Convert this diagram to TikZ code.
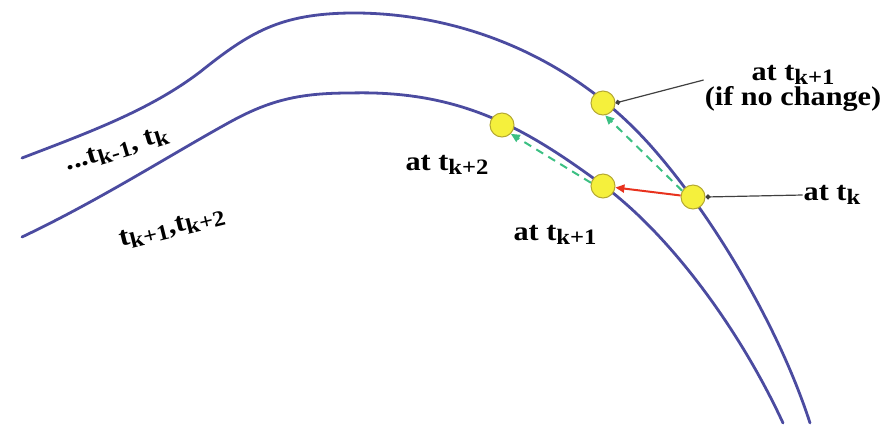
\documentclass[tikz,border=0pt]{standalone}
\usepackage{fontspec}
\setmainfont{Liberation Serif}[FakeStretch=1.12]
\usepackage{xcolor}
\usepackage{tikz}
\usetikzlibrary{arrows.meta}
\definecolor{track}{HTML}{4B4BA0}
\definecolor{ptfill}{HTML}{F5F03C}
\definecolor{ptdraw}{HTML}{B4A832}
\definecolor{moveg}{HTML}{3CC083}
\definecolor{mover}{HTML}{E8321E}
\newcommand{\lsub}[1]{\raisebox{-0.35ex}{\fontsize{22}{22}\selectfont #1}}

\begin{document}
\begin{tikzpicture}[x=1pt,y=-1pt,
  trackline/.style={draw=track,line width=2.8pt,line cap=round},
  ptnode/.style={circle,fill=ptfill,draw=ptdraw,line width=1pt,minimum size=24pt,inner sep=0pt},
  lbl/.style={font=\fontsize{27}{25}\selectfont\bfseries,inner sep=1pt},
  leader/.style={draw=black!75,line width=1.2pt,{Circle[length=5pt]}-},
  predict/.style={draw=moveg,line width=2pt,dash pattern=on 8pt off 6pt,-{Triangle[length=9pt,width=8pt]}},
  actual/.style={draw=mover,line width=2pt,-{Triangle[length=9pt,width=8pt]}}]
  \useasboundingbox (0,0) rectangle (891,432);

  % the two track boundaries
  \draw[trackline] (22,158) .. controls (90,132) and (150,110) .. (200,72)
    .. controls (250,32) and (280,14) .. (350,13)
    .. controls (450,12) and (565,50) .. (650,145)
    .. controls (715,218) and (780,330) .. (810,423);
  \draw[trackline] (22,237) .. controls (100,200) and (170,155) .. (230,122)
    .. controls (270,100) and (300,93) .. (350,93)
    .. controls (460,90) and (525,128) .. (600,183)
    .. controls (670,234) and (740,330) .. (783,423);

  % positions of the object
  \node[ptnode] (tkt) at (502,125) {};
  \node[ptnode] (tknc) at (603,103) {};
  \node[ptnode] (tkn) at (603,186) {};
  \node[ptnode] (tk) at (693,197) {};

  % moves
  \draw[actual] (tk) -- (tkn);
  \draw[predict] (tk.150) -- (tknc.-80);
  \draw[predict] (tkn.165) -- (tkt.-45);

  % labels
  \node[lbl] (lbltk) at (832,195) {at t\lsub{k}};
  \node[lbl,align=center] (lblnc) at (793,88) {at t\lsub{k+1}\\(if no change)};
  \node[lbl] (lbltkt) at (447,165) {at t\lsub{k+2}};
  \node[lbl] (lbltkn) at (555,235) {at t\lsub{k+1}};
  \node[lbl,rotate=17] (lblold) at (117,150) {...t\lsub{k-1}, t\lsub{k}};
  \node[lbl,rotate=14] (lblnew) at (172,228) {t\lsub{k+1},t\lsub{k+2}};

  \draw[leader] (tk.east) -- (lbltk.west);
  \draw[leader] (tknc.east) -- ([yshift=8pt]lblnc.west);
\end{tikzpicture}
\end{document}
